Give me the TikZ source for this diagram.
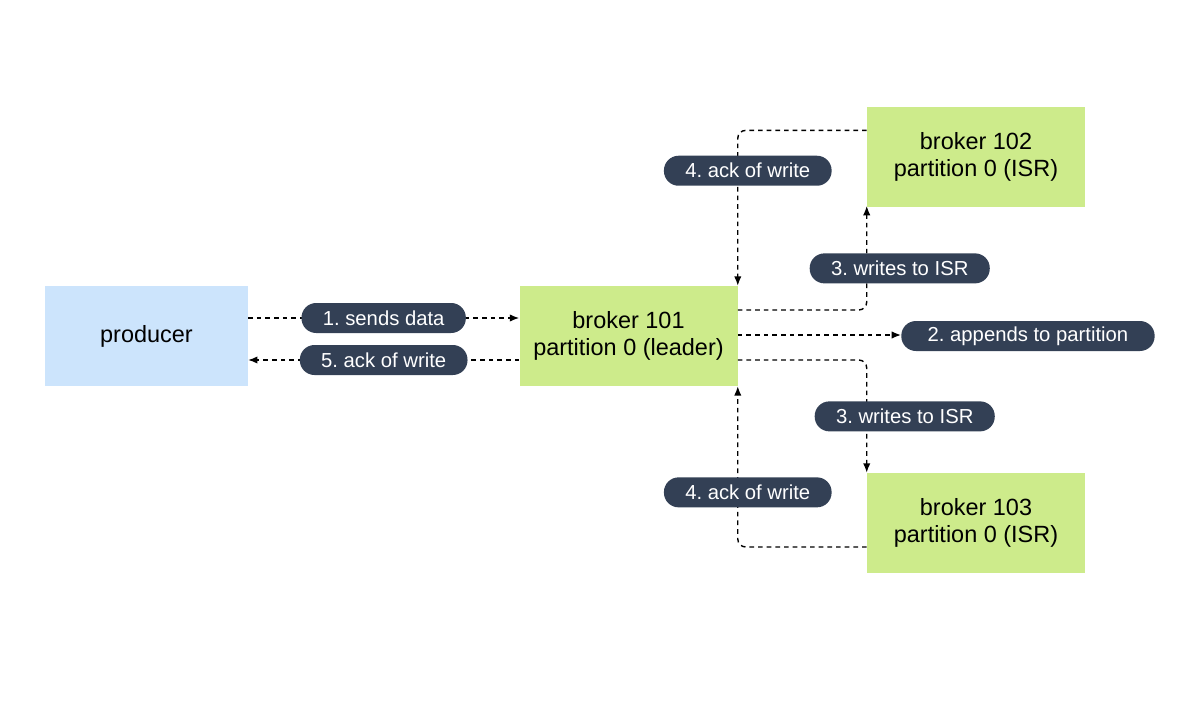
\documentclass[tikz,border=0pt]{standalone}
\usepackage{fontspec}
\setmainfont{Liberation Sans}
\usetikzlibrary{arrows.meta}
\frenchspacing
\definecolor{prodblue}{RGB}{204,228,252}
\definecolor{brokergreen}{RGB}{205,235,139}
\definecolor{pillslate}{RGB}{51,64,85}
\tikzset{
  box/.style={minimum width=152pt, minimum height=75pt, align=center,
    font=\fontsize{17.6}{20.5}\selectfont},
  broker/.style={box, fill=brokergreen, minimum width=163.5pt},
  pill/.style={fill=pillslate, text=white, rounded corners=11pt,
    minimum height=22.5pt, inner xsep=16pt, inner ysep=0pt,
    font=\fontsize{15.2}{18}\selectfont},
  flow/.style={dash pattern=on 3.5pt off 3pt, line width=1.05pt,
    rounded corners=6pt, -{Latex[length=7pt,width=5.5pt]}}
}
\begin{document}
\begin{tikzpicture}[x=0.75pt, y=-0.75pt]
\useasboundingbox (0,0) rectangle (1200,710);
\node (prod) [box, fill=prodblue] at (146.5,336) {producer};
\node (b101) [broker, right of=prod, node distance=361.5pt] {broker 101\\partition 0 (leader)};
\node (append) [pill, right of=b101, node distance=299.6pt, minimum width=190pt] {2. appends to partition};
\node (b102) [broker] at (976,157) {broker 102\\partition 0 (ISR)};
\node (b103) [broker] at (976,523) {broker 103\\partition 0 (ISR)};

\draw[flow] ([yshift=13.5pt]prod.east) -- node[pill] {1. sends data} ([yshift=13.5pt]b101.west);
\draw[flow] ([yshift=-18pt]b101.west) -- node[pill] {5. ack of write} ([yshift=-18pt]prod.east);
\draw[flow] ([yshift=0.75pt]b101.east) -- ([yshift=0.75pt]append.west);
\draw[flow] ([yshift=19.5pt]b101.east) -| node[pill, pos=0.7, xshift=24.75pt] {3. writes to ISR} ([yshift=1pt]b102.south west);
\draw[flow] ([yshift=20pt]b102.west) -| node[pill, pos=0.63, xshift=7.5pt] {4. ack of write} (b101.north east);
\draw[flow] ([yshift=-18pt]b101.east) -| node[pill, pos=0.75, xshift=28.5pt] {3. writes to ISR} (b103.north west);
\draw[flow] ([yshift=-18pt]b103.west) -| node[pill, pos=0.67, xshift=7.5pt] {4. ack of write} (b101.south east);
\end{tikzpicture}
\end{document}
